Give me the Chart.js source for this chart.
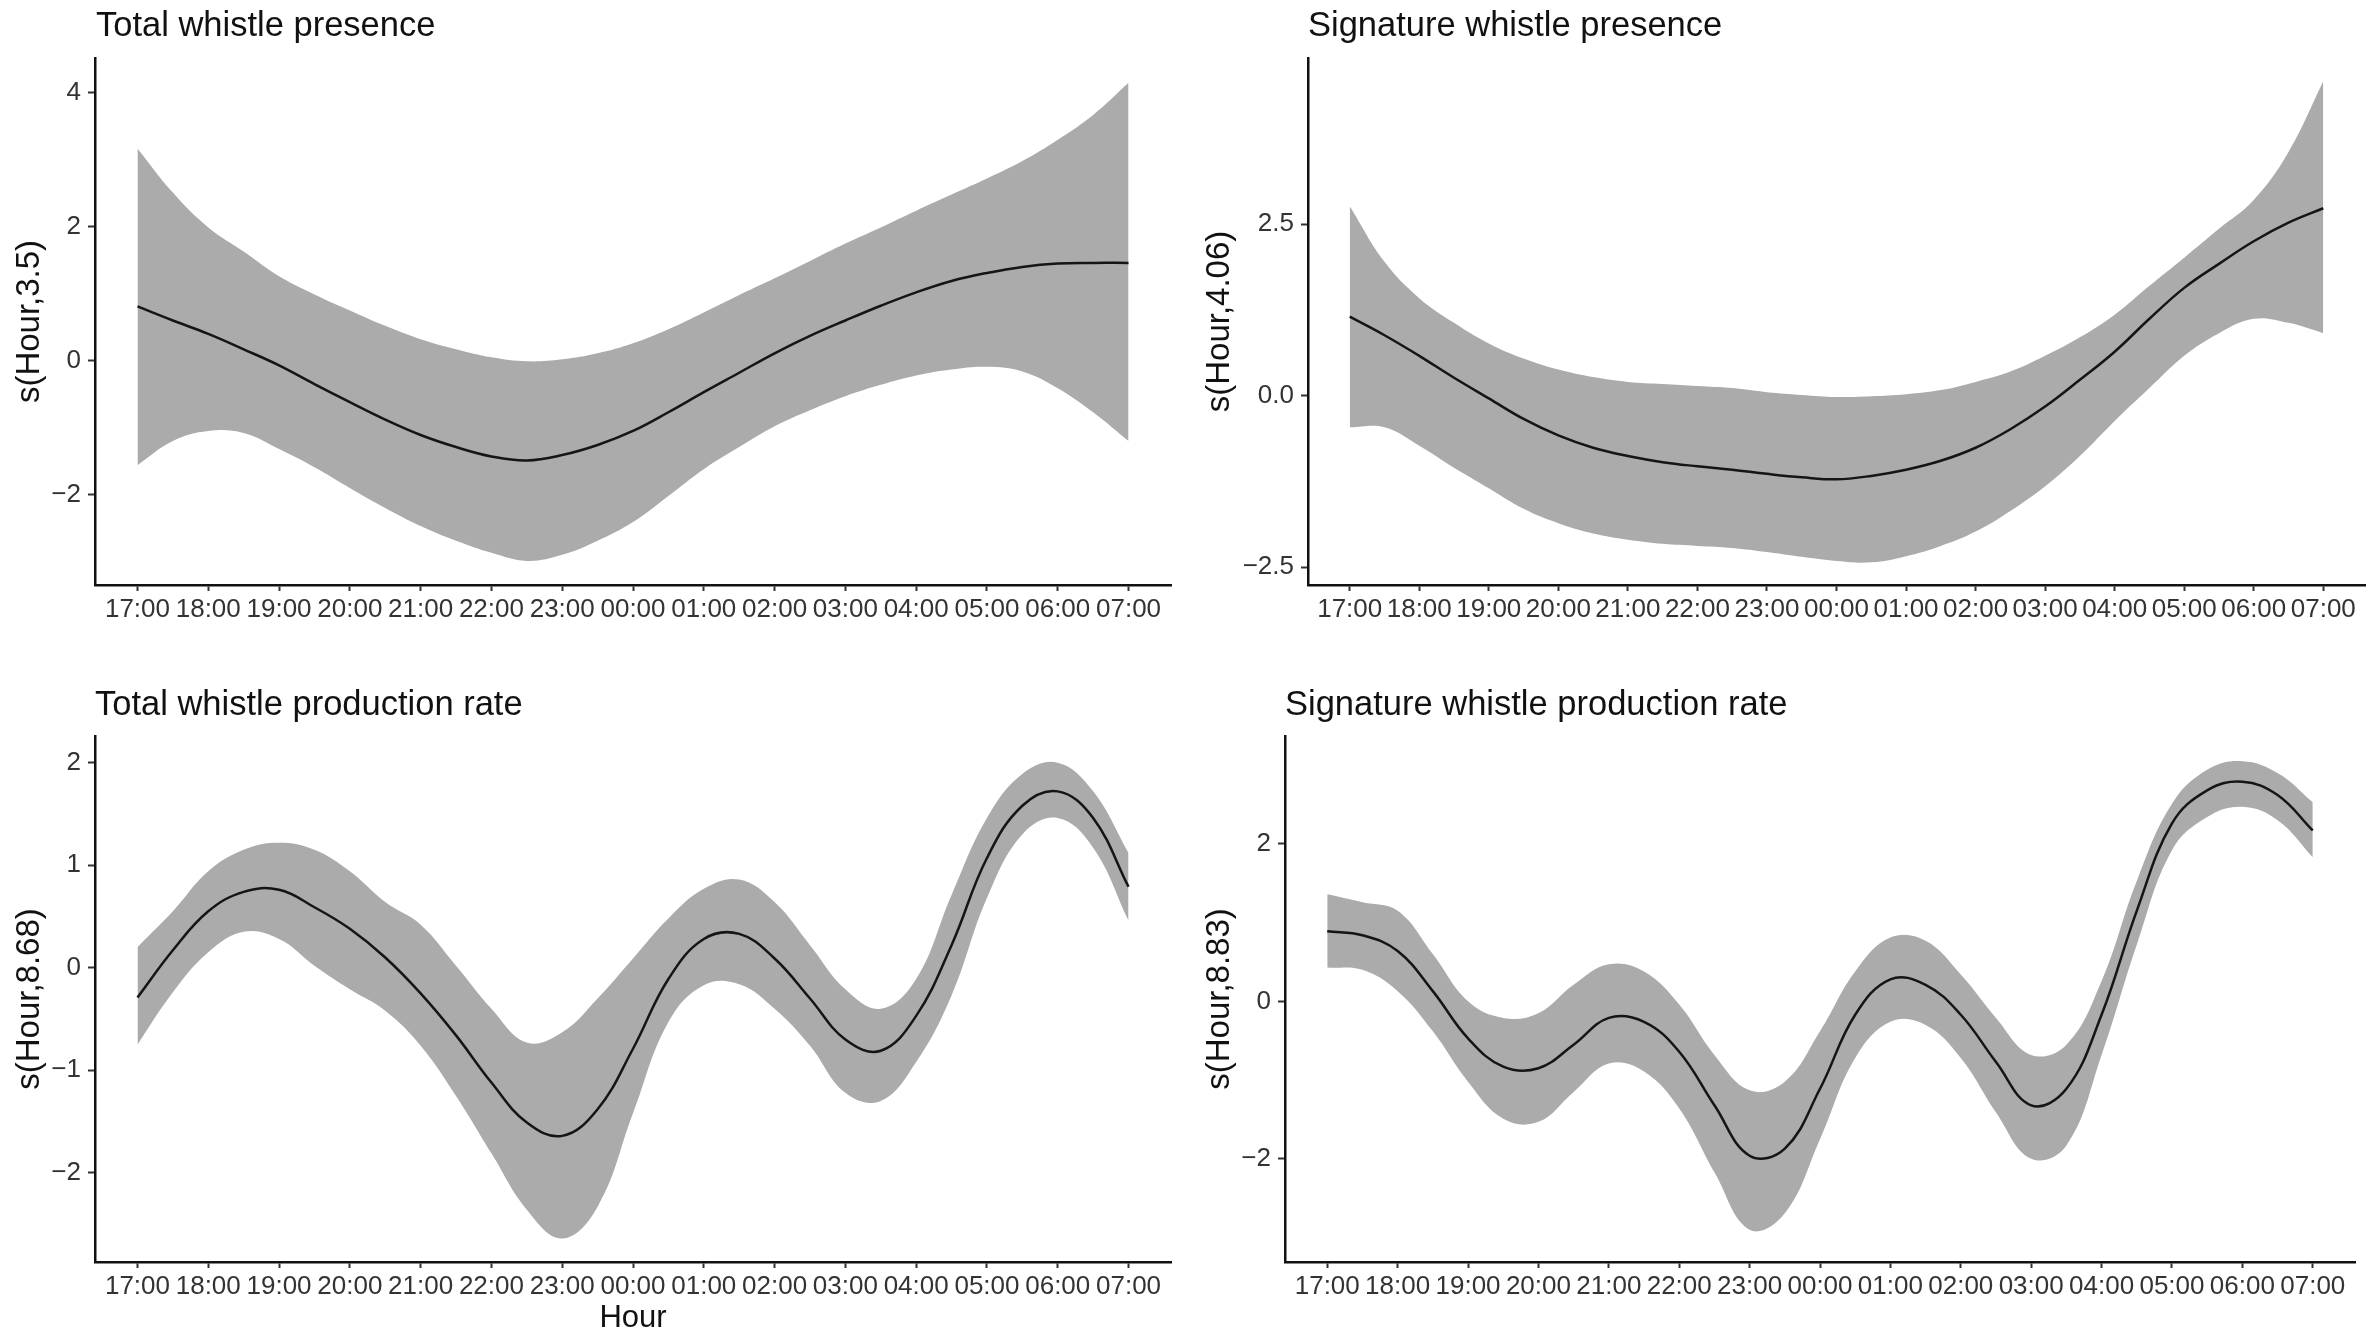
<!DOCTYPE html>
<html>
<head>
<meta charset="utf-8">
<script src="https://cdn.jsdelivr.net/npm/chart.js@4.4.1/dist/chart.umd.min.js"></script>
<style>
  html, body { margin: 0; padding: 0; background: #fff; overflow: hidden; }
  body { width: 2370px; height: 1337px; position: relative; font-family: "Liberation Sans", Arial, sans-serif; }
  .box { position: absolute; }
  .ttl { position: absolute; font-size: 34.5px; line-height: 34px; color: #111; white-space: nowrap; }
</style>
</head>
<body>
<div class="box" id="b1"><canvas id="c1"></canvas></div>
<div class="box" id="b2"><canvas id="c2"></canvas></div>
<div class="box" id="b3"><canvas id="c3"></canvas></div>
<div class="box" id="b4"><canvas id="c4"></canvas></div>
<div class="ttl" style="left:96px;top:7px">Total whistle presence</div>
<div class="ttl" style="left:1308px;top:7px">Signature whistle presence</div>
<div class="ttl" style="left:95px;top:686px">Total whistle production rate</div>
<div class="ttl" style="left:1285px;top:686px">Signature whistle production rate</div>
<script>
// hours since 17:00, sampled every half hour
const hours = [0, 0.5, 1, 1.5, 2, 2.5, 3, 3.5, 4, 4.5, 5, 5.5, 6, 6.5, 7, 7.5, 8, 8.5, 9, 9.5, 10, 10.5, 11, 11.5, 12, 12.5, 13, 13.5, 14];
const hourTicks = [0, 1, 2, 3, 4, 5, 6, 7, 8, 9, 10, 11, 12, 13, 14];
const hourLabels = ['17:00', '18:00', '19:00', '20:00', '21:00', '22:00', '23:00', '00:00', '01:00', '02:00', '03:00', '04:00', '05:00', '06:00', '07:00'];

// Total whistle presence
const totalPresFit   = [0.81, 0.60, 0.40, 0.17, -0.07, -0.35, -0.62, -0.88, -1.11, -1.29, -1.43, -1.49, -1.41, -1.26, -1.05, -0.77, -0.47, -0.18, 0.11, 0.37, 0.60, 0.82, 1.02, 1.19, 1.31, 1.40, 1.45, 1.46, 1.46];
const totalPresUpper = [3.17, 2.51, 1.99, 1.63, 1.26, 0.99, 0.75, 0.52, 0.32, 0.17, 0.05, -0.01, 0.02, 0.11, 0.26, 0.47, 0.72, 0.98, 1.23, 1.49, 1.75, 1.99, 2.24, 2.48, 2.72, 2.98, 3.30, 3.67, 4.15];
const totalPresLower = [-1.56, -1.20, -1.05, -1.08, -1.32, -1.59, -1.90, -2.20, -2.47, -2.69, -2.87, -2.99, -2.90, -2.69, -2.41, -2.02, -1.62, -1.29, -0.98, -0.74, -0.53, -0.36, -0.22, -0.13, -0.09, -0.16, -0.41, -0.77, -1.20];

// Signature whistle presence
const sigPresFit   = [1.15, 0.88, 0.58, 0.26, -0.04, -0.34, -0.58, -0.76, -0.88, -0.97, -1.03, -1.08, -1.14, -1.19, -1.22, -1.17, -1.08, -0.95, -0.76, -0.49, -0.16, 0.23, 0.64, 1.12, 1.57, 1.92, 2.25, 2.52, 2.73];
const sigPresUpper = [2.76, 1.95, 1.42, 1.06, 0.76, 0.54, 0.38, 0.27, 0.20, 0.17, 0.14, 0.11, 0.05, 0.01, -0.02, -0.01, 0.02, 0.08, 0.20, 0.35, 0.58, 0.85, 1.18, 1.60, 2.01, 2.43, 2.85, 3.55, 4.58];
const sigPresLower = [-0.46, -0.46, -0.73, -1.05, -1.35, -1.65, -1.86, -2.01, -2.10, -2.16, -2.19, -2.22, -2.28, -2.35, -2.41, -2.43, -2.34, -2.19, -1.98, -1.68, -1.32, -0.88, -0.37, 0.11, 0.58, 0.91, 1.12, 1.06, 0.91];

// Total whistle production rate
const totalRateFit   = [-0.29, 0.17, 0.55, 0.74, 0.76, 0.59, 0.38, 0.10, -0.25, -0.66, -1.12, -1.51, -1.64, -1.38, -0.79, -0.11, 0.28, 0.33, 0.09, -0.30, -0.70, -0.81, -0.47, 0.22, 1.07, 1.58, 1.72, 1.46, 0.79];
const totalRateUpper = [0.20, 0.55, 0.94, 1.15, 1.22, 1.15, 0.94, 0.64, 0.42, 0.02, -0.40, -0.73, -0.63, -0.30, 0.09, 0.48, 0.77, 0.86, 0.64, 0.22, -0.21, -0.40, -0.11, 0.71, 1.46, 1.89, 2.00, 1.72, 1.12];
const totalRateLower = [-0.75, -0.24, 0.15, 0.35, 0.28, 0.02, -0.21, -0.42, -0.76, -1.25, -1.81, -2.36, -2.64, -2.33, -1.42, -0.53, -0.17, -0.16, -0.40, -0.76, -1.22, -1.30, -0.92, -0.27, 0.68, 1.30, 1.46, 1.17, 0.46];

// Signature whistle production rate
const sigRateFit   = [0.89, 0.84, 0.64, 0.13, -0.47, -0.83, -0.85, -0.55, -0.21, -0.26, -0.64, -1.32, -1.96, -1.87, -1.11, -0.17, 0.28, 0.21, -0.17, -0.77, -1.32, -1.11, -0.17, 1.15, 2.26, 2.68, 2.79, 2.62, 2.17];
const sigRateUpper = [1.36, 1.26, 1.15, 0.60, 0.00, -0.21, -0.15, 0.21, 0.47, 0.38, -0.04, -0.68, -1.13, -1.02, -0.38, 0.38, 0.81, 0.77, 0.34, -0.21, -0.68, -0.55, 0.26, 1.53, 2.51, 2.94, 3.05, 2.90, 2.53];
const sigRateLower = [0.43, 0.40, 0.13, -0.38, -1.02, -1.49, -1.53, -1.15, -0.79, -0.89, -1.36, -2.17, -2.90, -2.69, -1.75, -0.72, -0.26, -0.30, -0.72, -1.41, -2.00, -1.83, -0.68, 0.72, 1.92, 2.34, 2.47, 2.30, 1.83];

// y axis ticks
const totalPresTicks = [-2, 0, 2, 4];
const totalPresLabels = ['\u22122', '0', '2', '4'];
const sigPresTicks = [-2.5, 0, 2.5];
const sigPresLabels = ['\u22122.5', '0.0', '2.5'];
const totalRateTicks = [-2, -1, 0, 1, 2];
const totalRateLabels = ['\u22122', '\u22121', '0', '1', '2'];
const sigRateTicks = [-2, 0, 2];
const sigRateLabels = ['\u22122', '0', '2'];

const FONT = '"Liberation Sans", Arial, sans-serif';
const BAND = '#ababab';
const PADTOP = 30, PADRIGHT = 10;

function pts(vals) {
  return hours.map((h, i) => ({ x: h, y: vals[i] }));
}

function panel(id, o) {
  const box = document.getElementById('b' + id);
  const top = o.areaTop - PADTOP;
  const w = o.areaRight - o.left + PADRIGHT;
  const h = o.axisY - top + o.xH;
  box.style.left = o.left + 'px';
  box.style.top = top + 'px';
  box.style.width = w + 'px';
  box.style.height = h + 'px';

  new Chart(document.getElementById('c' + id), {
    type: 'line',
    data: {
      datasets: [
        // fitted smooth (drawn on top)
        { data: pts(o.fit), borderColor: '#151515', borderWidth: 2.5, fill: false, pointRadius: 0, tension: 0.4 },
        // confidence band
        { data: pts(o.upper), borderWidth: 0, borderColor: 'rgba(0,0,0,0)', backgroundColor: BAND, fill: '+1', pointRadius: 0, tension: 0.4 },
        { data: pts(o.lower), borderWidth: 0, borderColor: 'rgba(0,0,0,0)', backgroundColor: BAND, fill: false, pointRadius: 0, tension: 0.4 }
      ]
    },
    options: {
      responsive: true,
      maintainAspectRatio: false,
      animation: false,
      layout: { padding: { top: PADTOP, right: PADRIGHT, left: 0, bottom: 0 } },
      plugins: { legend: { display: false }, tooltip: { enabled: false }, title: { display: false } },
      scales: {
        x: {
          type: 'linear', min: -0.6, max: 14.6,
          afterBuildTicks: s => { s.ticks = hourTicks.map(v => ({ value: v })); },
          afterFit: s => { s.height = o.xH; },
          ticks: {
            autoSkip: false, maxRotation: 0, minRotation: 0, padding: 3,
            color: '#333', font: { family: FONT, size: 26 },
            callback: (v, i) => hourLabels[i]
          },
          grid: { drawOnChartArea: false, drawTicks: true, tickLength: 6, tickWidth: 2, tickColor: '#333' },
          border: { display: true, color: '#111', width: 2.5 },
          title: { display: !!o.xTitle, text: o.xTitle || '', color: '#111', font: { family: FONT, size: 31 }, padding: { top: 0, bottom: 0 } }
        },
        y: {
          type: 'linear', min: o.yMin, max: o.yMax,
          afterBuildTicks: s => { s.ticks = o.ticks.map(v => ({ value: v })); },
          afterFit: s => { s.width = o.yW; },
          ticks: {
            autoSkip: false, padding: 7,
            color: '#333', font: { family: FONT, size: 26 },
            callback: (v, i) => o.labels[i]
          },
          grid: { drawOnChartArea: false, drawTicks: true, tickLength: 7, tickWidth: 2, tickColor: '#333' },
          border: { display: true, color: '#111', width: 2.5 },
          title: { display: true, text: o.yTitle, color: '#111', font: { family: FONT, size: 33 }, padding: { top: 10, bottom: 0 } }
        }
      }
    }
  });
}

panel(1, { left: 0, yW: 95, areaTop: 58, axisY: 585, areaRight: 1171, xH: 50,
  yMin: -3.35, yMax: 4.52, ticks: totalPresTicks, labels: totalPresLabels, yTitle: 's(Hour,3.5)',
  fit: totalPresFit, upper: totalPresUpper, lower: totalPresLower });

panel(2, { left: 1190, yW: 118, areaTop: 58, axisY: 585, areaRight: 2365, xH: 50,
  yMin: -2.76, yMax: 4.92, ticks: sigPresTicks, labels: sigPresLabels, yTitle: 's(Hour,4.06)',
  fit: sigPresFit, upper: sigPresUpper, lower: sigPresLower });

panel(3, { left: 0, yW: 95, areaTop: 736, axisY: 1262, areaRight: 1171, xH: 75, xTitle: 'Hour',
  yMin: -2.87, yMax: 2.26, ticks: totalRateTicks, labels: totalRateLabels, yTitle: 's(Hour,8.68)',
  fit: totalRateFit, upper: totalRateUpper, lower: totalRateLower });

panel(4, { left: 1190, yW: 95, areaTop: 736, axisY: 1262, areaRight: 2355, xH: 50,
  yMin: -3.31, yMax: 3.37, ticks: sigRateTicks, labels: sigRateLabels, yTitle: 's(Hour,8.83)',
  fit: sigRateFit, upper: sigRateUpper, lower: sigRateLower });
</script>
</body>
</html>
